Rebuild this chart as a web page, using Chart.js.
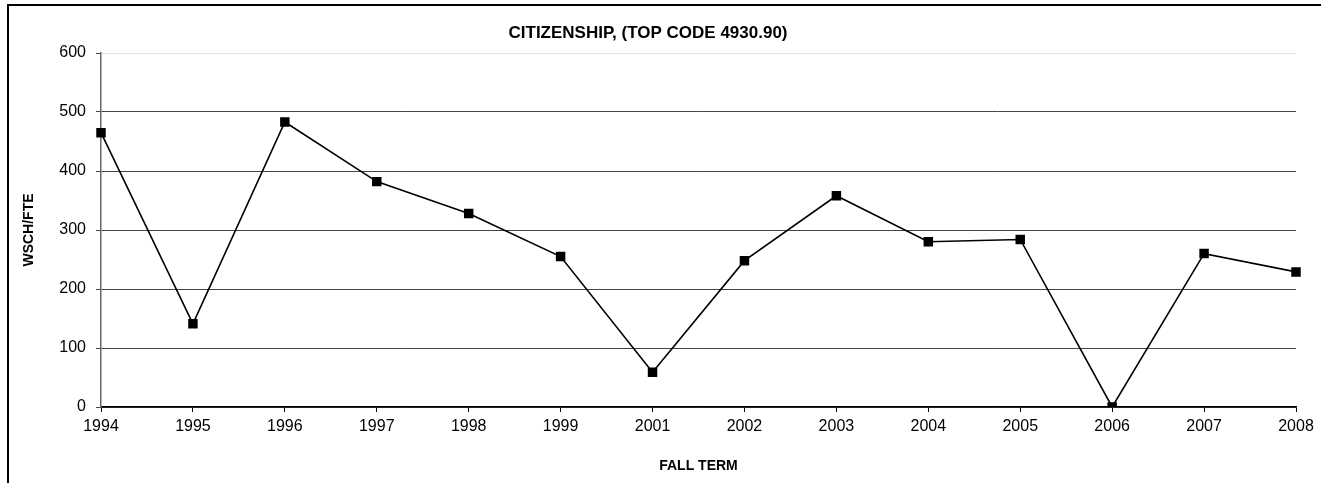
<!DOCTYPE html>
<html>
<head>
<meta charset="utf-8">
<script src="https://cdn.jsdelivr.net/npm/chart.js@4.4.1/dist/chart.umd.min.js"></script>
<style>
  html, body { margin: 0; padding: 0; background: #fff; }
  #wrap { width: 1321px; height: 483px; position: relative; }
</style>
</head>
<body>
<div id="wrap"><canvas id="myChart" width="1321" height="483"></canvas></div>
<script>
const years = ['1994', '1995', '1996', '1997', '1998', '1999', '2001', '2002', '2003', '2004', '2005', '2006', '2007', '2008'];
const wschFte = [465, 141, 483, 382, 328, 255, 59, 248, 358, 280, 284, 0, 260, 229];
const yTicks = [0, 100, 200, 300, 400, 500, 600];

const font = "Arial, 'Liberation Sans', sans-serif";

// outer frame like the spreadsheet chart border (cut off at right and bottom)
const frame = {
  id: 'frame',
  afterDraw(chart) {
    const c = chart.ctx;
    c.save();
    c.strokeStyle = '#000';
    c.lineWidth = 2;
    c.strokeRect(8, 5, 1400, 600);
    c.restore();
  }
};

new Chart(document.getElementById('myChart'), {
  type: 'line',
  data: {
    labels: years,
    datasets: [{
      label: 'WSCH/FTE',
      data: wschFte,
      borderColor: '#000',
      backgroundColor: '#000',
      borderWidth: 1.6,
      pointStyle: 'rect',
      pointRadius: 6.7,
      pointBorderWidth: 0,
      tension: 0
    }]
  },
  options: {
    responsive: false,
    animation: false,
    layout: { padding: { left: 0, right: 25, top: 0, bottom: 0 } },
    plugins: {
      legend: { display: false },
      tooltip: { enabled: false },
      title: {
        display: true,
        text: 'CITIZENSHIP, (TOP CODE 4930.90)',
        color: '#000',
        font: { family: font, size: 17, weight: 'bold' },
        padding: { top: 23, bottom: 9.6 }
      }
    },
    scales: {
      x: {
        offset: false,
        grid: { display: true, drawOnChartArea: false, drawTicks: true, tickLength: 5, tickColor: '#000', tickWidth: 1 },
        border: { color: '#000', width: 1.5 },
        ticks: { color: '#000', font: { family: font, size: 16 }, padding: 5, maxRotation: 0, autoSkip: false },
        title: { display: true, text: 'FALL TERM', color: '#000', font: { family: font, size: 14, weight: 'bold' }, padding: { bottom: 8.6 } },
        afterFit(scale) { scale.height = 76; }
      },
      y: {
        min: 0,
        max: 600,
        afterBuildTicks(scale) { scale.ticks = yTicks.map(v => ({ value: v })); },
        grid: {
          color: ctx => ctx.tick && ctx.tick.value === 600 ? '#e2e2e2' : '#444',
          lineWidth: 1,
          tickLength: 5,
          tickColor: '#444'
        },
        border: { color: '#666', width: 1.5 },
        ticks: { color: '#000', font: { family: font, size: 16 }, padding: 10 },
        title: { display: true, text: 'WSCH/FTE', color: '#000', font: { family: font, size: 14, weight: 'bold' }, padding: { top: 21 } },
        afterFit(scale) { scale.width = 101; }
      }
    }
  },
  plugins: [frame]
});
</script>
</body>
</html>
